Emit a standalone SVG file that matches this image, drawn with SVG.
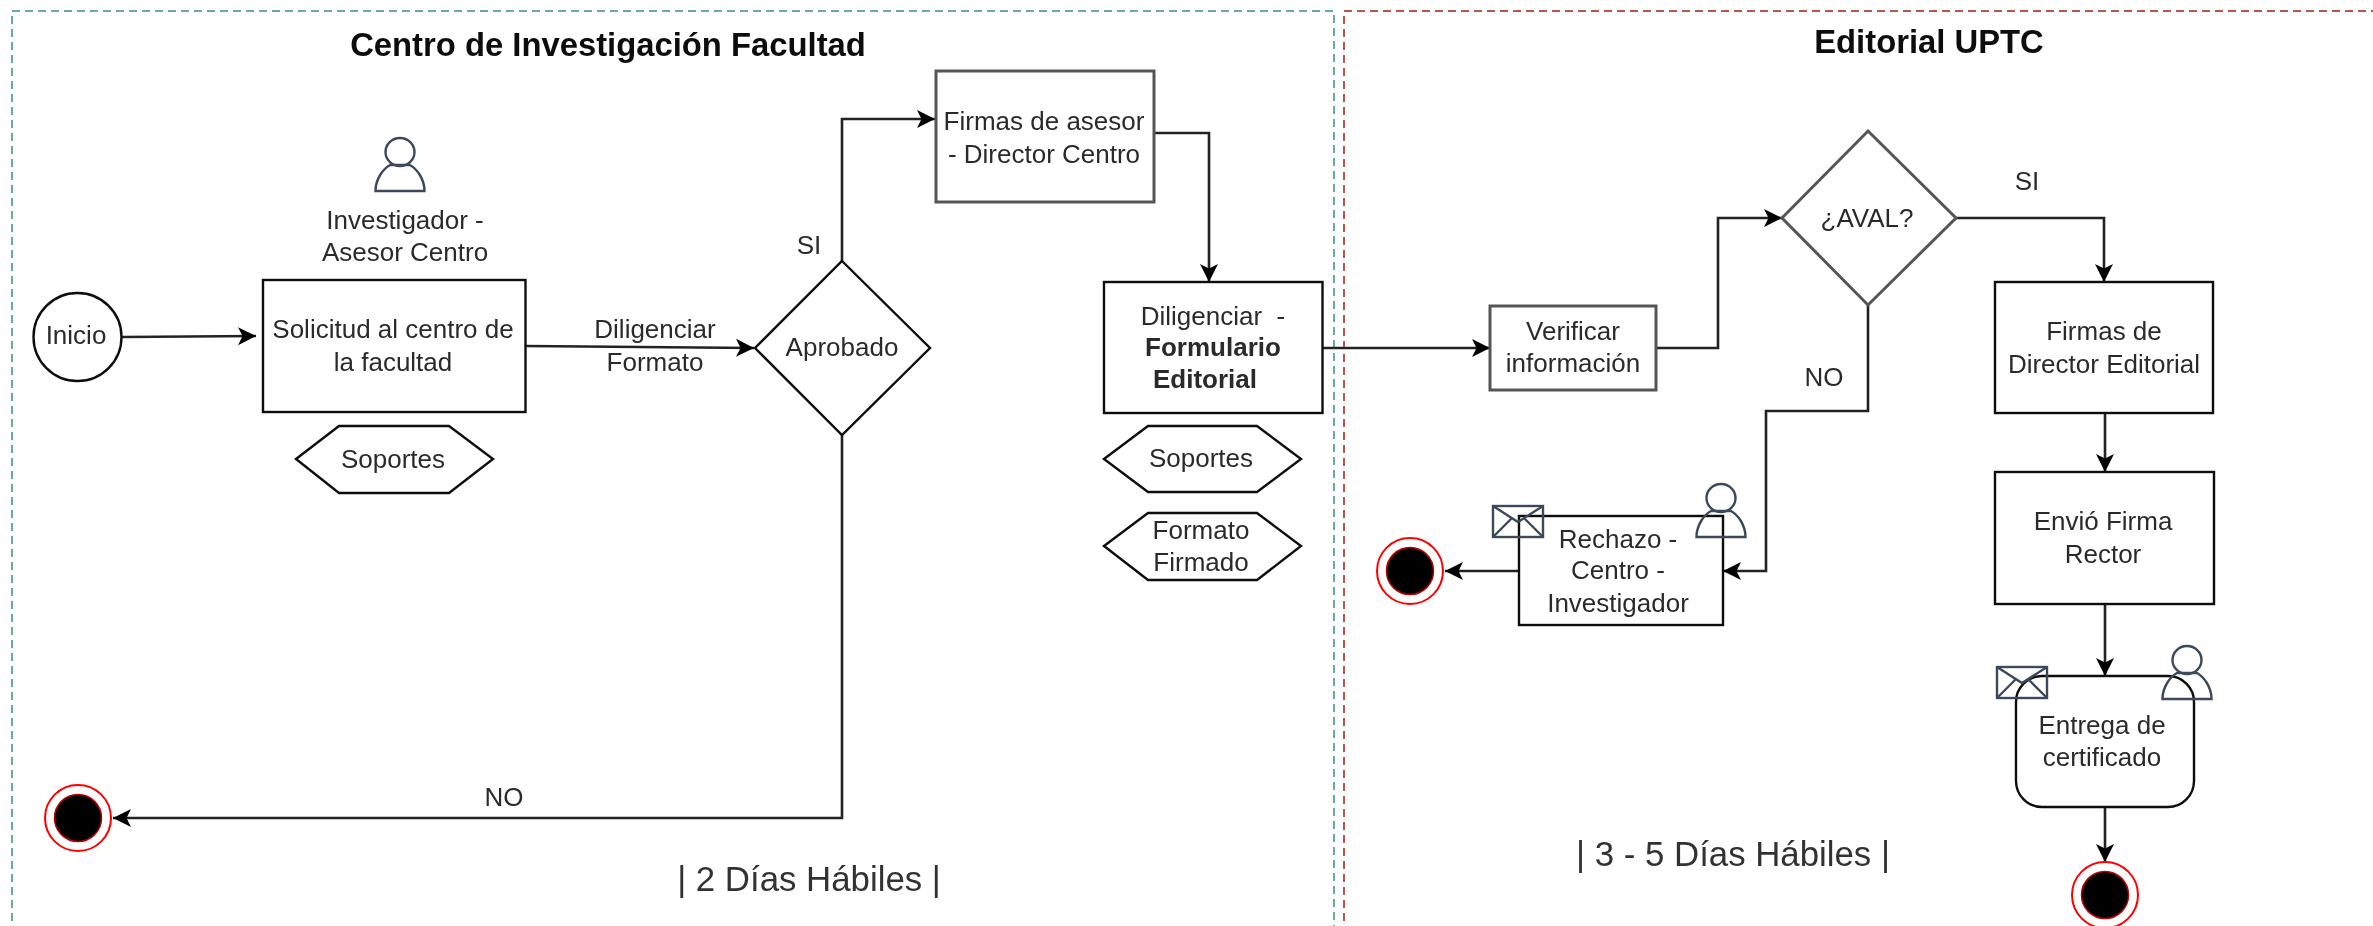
<svg xmlns="http://www.w3.org/2000/svg" width="2373" height="926" viewBox="0 0 2373 926">
<style>
text{font-family:"Liberation Sans",Arial,sans-serif;font-size:26px;fill:#2b2b2b;text-anchor:middle;dominant-baseline:central;white-space:pre}
.title{font-size:32.800px;font-weight:bold;fill:#111}
.big{font-size:34.800px;fill:#333}
.b{font-weight:bold}
.box{fill:#fff;stroke:#111;stroke-width:2.4}
.gray{stroke:#555;stroke-width:3}
.con{fill:none;stroke:#222;stroke-width:2.6;marker-end:url(#arr)}
.icon{fill:none;stroke:#3c4a5a;stroke-width:2.4}
.endo{fill:#fff;stroke:#f00;stroke-width:2}
.endi{fill:#000;stroke:#b00;stroke-width:1.500}
</style>
<defs>
<filter id="soft" filterUnits="userSpaceOnUse" x="0" y="0" width="2373" height="926"><feGaussianBlur stdDeviation="0.6"/></filter>
<marker id="arr" markerUnits="userSpaceOnUse" markerWidth="20" markerHeight="20" refX="18" refY="10" orient="auto" viewBox="0 0 20 20">
<path d="M0,1 L18,10 L0,19 L4.5,10 Z" fill="#000"/>
</marker>
<g id="person"><ellipse cx="0" cy="14" rx="14.500" ry="14" class="icon"/><path d="M-24.500,53 C-24.500,41 -17,31 -10,27 L10,27 C17,31 24.500,41 24.500,53 Z" class="icon"/></g>
<g id="env"><rect x="0" y="0" width="50" height="31" class="icon"/><path d="M0,0 L25,16 L50,0 M0,31 L19,12 M50,31 L31,12" class="icon"/></g>
</defs>
<rect width="2373" height="926" fill="#fff"/>
<g filter="url(#soft)">
<g id="lane-centro">
<path d="M12,960 V11 H1334 V960" fill="none" stroke="#67ab9f" stroke-width="2" stroke-dasharray="8 5"/>
<text class="title" x="608" y="44">Centro de Investigación Facultad</text>
<text class="big" x="809" y="878">| 2 Días Hábiles |</text>
</g>
<g id="lane-editorial">
<path d="M1344,960 V11 H2400" fill="none" stroke="#b85450" stroke-width="2" stroke-dasharray="8 5"/>
<text class="title" x="1929" y="41">Editorial UPTC</text>
<text class="big" x="1733" y="853">| 3 - 5 Días Hábiles |</text>
</g>
<g id="connectors">
<path class="con" d="M122,337 L256,336"/>
<path class="con" d="M526,346 L754,348"/>
<path class="con" d="M842,261 V119 H935"/>
<path class="con" d="M842,435 V818 H113"/>
<path class="con" d="M1154,133 H1209 V282"/>
<path class="con" d="M1322,348 H1490"/>
<path class="con" d="M1656,348 H1718 V218 H1782"/>
<path class="con" d="M1956,218 H2104 V282"/>
<path class="con" d="M1868,305 V411 H1766 V571 H1723"/>
<path class="con" d="M1519,571 H1445"/>
<path class="con" d="M2105,413 V472"/>
<path class="con" d="M2105,604 V676"/>
<path class="con" d="M2105,807 V862"/>
<text x="655" y="329">Diligenciar</text>
<text x="655" y="362">Formato</text>
<text x="809" y="245">SI</text>
<text x="504" y="797">NO</text>
<text x="2027" y="181">SI</text>
<text x="1824" y="377">NO</text>
</g>
<g id="actor-investigador">
<use href="#person" x="400" y="138"/>
<text x="405" y="220">Investigador -</text>
<text x="405" y="252">Asesor Centro</text>
</g>
<g id="inicio"><circle cx="77.500" cy="337" r="44" class="box"/><text x="76" y="335">Inicio</text></g>
<g id="solicitud"><rect x="263" y="280" width="262.500" height="132" class="box"/>
<text x="393" y="329">Solicitud al centro de</text><text x="393" y="362">la facultad</text></g>
<g id="soportes-1"><path d="M296,459 L339,426 H449 L493,459 L449,493 H339 Z" class="box"/><text x="393" y="459">Soportes</text></g>
<g id="aprobado"><path d="M842,261 L930,348 L842,435 L755,348 Z" class="box"/><text x="842" y="347">Aprobado</text></g>
<g id="firmas-asesor"><rect x="936" y="71" width="218" height="131" class="box gray"/>
<text x="1044" y="121">Firmas de asesor</text><text x="1044" y="154">- Director Centro</text></g>
<g id="diligenciar"><rect x="1104" y="282" width="218.500" height="131" class="box"/>
<text x="1213" y="316">Diligenciar  -</text><text class="b" x="1213" y="347">Formulario</text><text class="b" x="1205" y="379">Editorial</text></g>
<g id="soportes-2"><path d="M1104,459 L1148,426 H1257 L1301,459 L1257,492 H1148 Z" class="box"/><text x="1201" y="458">Soportes</text></g>
<g id="formato-firmado"><path d="M1104,546 L1148,513 H1257 L1301,546 L1257,580 H1148 Z" class="box"/><text x="1201" y="530">Formato</text><text x="1201" y="562">Firmado</text></g>
<g id="verificar"><rect x="1490" y="306" width="166" height="84" class="box gray"/>
<text x="1573" y="331">Verificar</text><text x="1573" y="363">información</text></g>
<g id="aval"><path d="M1868,131 L1956,218 L1868,305 L1782,218 Z" class="box gray"/><text x="1867" y="218">¿AVAL?</text></g>
<g id="firmas-director"><rect x="1995" y="282" width="218" height="131" class="box"/>
<text x="2104" y="331">Firmas de</text><text x="2104" y="364">Director Editorial</text></g>
<g id="envio"><rect x="1995" y="472" width="219" height="132" class="box"/>
<text x="2103" y="521">Envió Firma</text><text x="2103" y="554">Rector</text></g>
<g id="rechazo"><rect x="1519" y="516" width="204" height="109" class="box"/>
<use href="#env" x="1493" y="506"/><use href="#person" x="1721" y="484"/>
<text x="1618" y="539">Rechazo -</text><text x="1618" y="570">Centro -</text><text x="1618" y="603">Investigador</text></g>
<g id="entrega"><rect x="2016" y="676" width="178" height="131" rx="26" class="box"/>
<use href="#env" x="1997" y="667"/><use href="#person" x="2187" y="646"/>
<text x="2102" y="725">Entrega de</text><text x="2102" y="757">certificado</text></g>
<g id="fin-1"><circle cx="78" cy="818" r="33" class="endo"/><circle cx="78" cy="818" r="23.500" class="endi"/></g>
<g id="fin-2"><circle cx="1410" cy="571" r="33" class="endo"/><circle cx="1410" cy="571" r="23.500" class="endi"/></g>
<g id="fin-3"><circle cx="2105" cy="895" r="33" class="endo"/><circle cx="2105" cy="895" r="23.500" class="endi"/></g>
</g>
</svg>
